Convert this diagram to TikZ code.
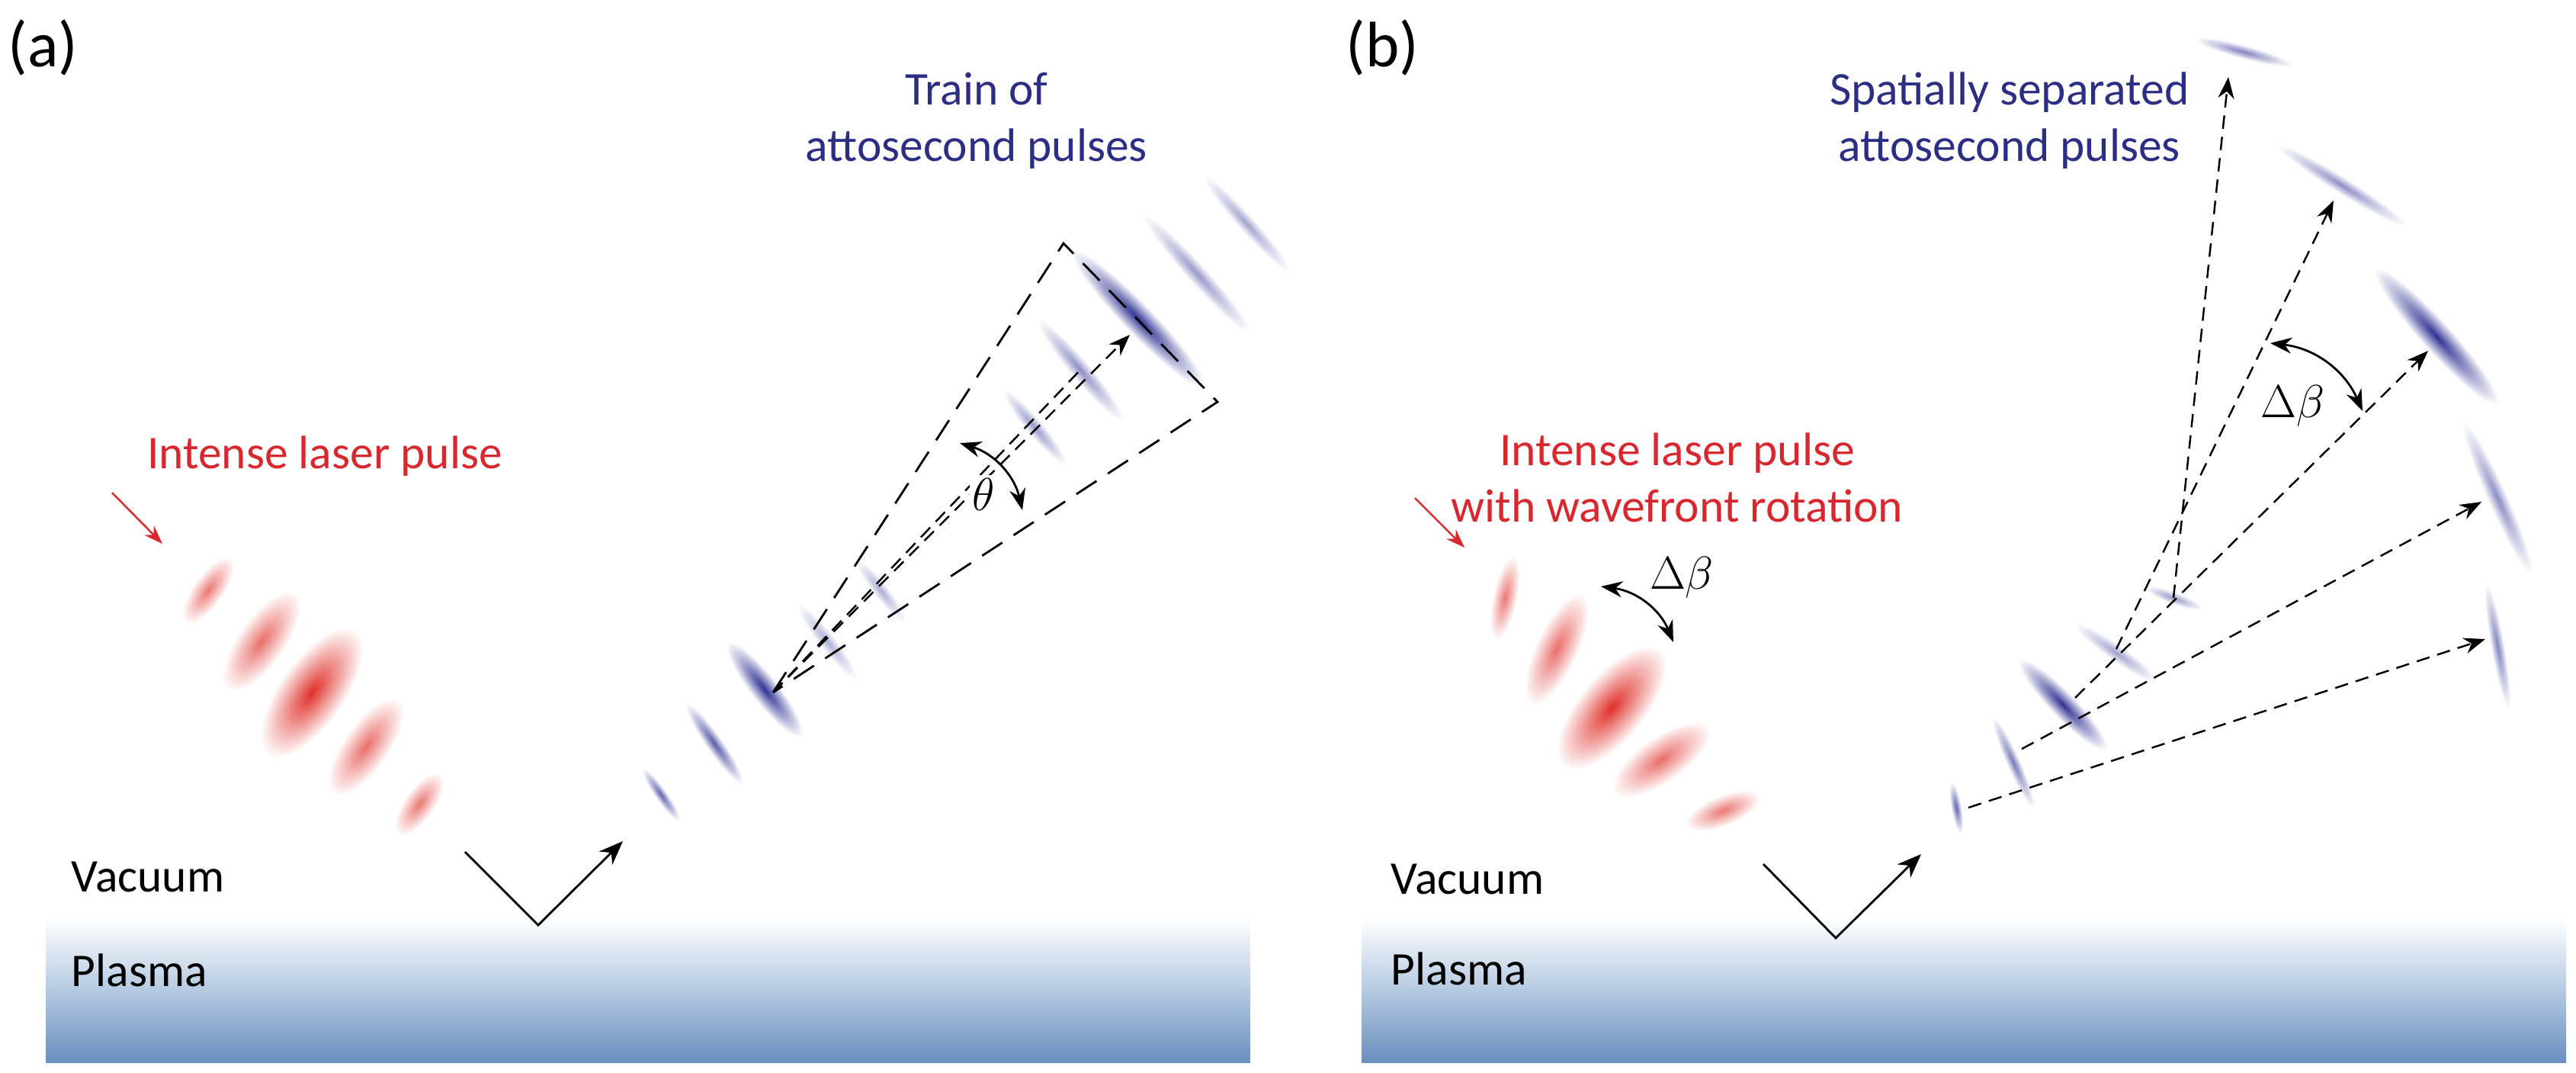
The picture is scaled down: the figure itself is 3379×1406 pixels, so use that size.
\documentclass[tikz,border=0pt]{standalone}
\usepackage{fontspec}
\setmainfont{Carlito}
\usetikzlibrary{arrows.meta}
\definecolor{navy}{HTML}{2B2E83}
\definecolor{pblue}{HTML}{2E3192}
\definecolor{rtext}{HTML}{D7282F}
\definecolor{rpulse}{HTML}{E0302A}
\definecolor{plasma}{HTML}{6A8FBE}
\definecolor{plasmamid}{HTML}{B4C9E1}
\newcommand\mypulse[6]{\shade[transform canvas={shift={(#1,#2)},rotate=#3},inner color=#6,outer color=white] (0,0) ellipse ({#4} and {#5});}
\tikzset{
  lbl/.style={font=\fontsize{17.5}{21}\selectfont, inner sep=0pt},
  tag/.style={font=\fontsize{24}{28}\selectfont, inner sep=0pt},
  refl/.style={line width=0.8pt, -{Stealth[length=9pt,width=7pt]}},
  ray/.style={line width=0.7pt, dash pattern=on 5pt off 3pt, -{Stealth[length=8pt,width=6pt]}},
  edge/.style={line width=0.8pt, dash pattern=on 9pt off 5pt},
  ang/.style={line width=0.8pt, {Stealth[length=8pt,width=6pt]}-{Stealth[length=8pt,width=6pt]}},
}
\begin{document}
\begin{tikzpicture}[x=0.1mm,y=-0.1mm]
\useasboundingbox (0,0) rectangle (3379,1406);
% plasma slabs
\shade[top color=white, bottom color=plasma, middle color=plasmamid] (60,1205) rectangle (1640,1393);
\shade[top color=white, bottom color=plasma, middle color=plasmamid] (1786,1205) rectangle (3366,1393);

% ---------- panel (a)
\node[tag,anchor=west] (ta) at (10,62) {(a)};
\node[lbl,anchor=west] (vaca) at (93,1150) {Vacuum};
\node[lbl,anchor=west] (plaa) at (93,1272) {Plasma};
\node[lbl,text=rtext] (lasa) at (426,598) {Intense laser pulse};
\node[lbl,text=navy,align=center] (traina) at (1281,158) {Train of\\attosecond pulses};
\coordinate (ra1) at (147,646); \coordinate (ra2) at (213,713);
\draw[rtext,line width=0.7pt,-{Stealth[length=7pt,width=5pt]}] (ra1) -- (ra2);
% red pulses
\mypulse{273}{774}{55}{52}{20}{rpulse!65}
\mypulse{343}{841}{55}{78}{31}{rpulse!70}
\mypulse{409}{908}{55}{100}{43}{rpulse}
\mypulse{480}{979}{55}{76}{30}{rpulse!70}
\mypulse{550}{1054}{55}{48}{20}{rpulse!65}
% blue pulses
\mypulse{867}{1042}{-55}{42}{8}{pblue!75}
\mypulse{937}{975}{-55}{64}{11}{pblue!80}
\mypulse{1003}{904}{-52}{78}{18}{pblue}
\mypulse{1085}{841}{-52}{62}{11}{pblue!40}
\mypulse{1155}{774}{-52}{52}{10}{pblue!40}
\mypulse{1357}{560}{-50}{64}{11}{pblue!50}
\mypulse{1417}{485}{-50}{86}{13}{pblue!55}
\mypulse{1493}{418}{-46}{125}{20}{pblue}
\mypulse{1570}{359}{-48}{104}{13}{pblue!50}
\mypulse{1635}{293}{-48}{84}{11}{pblue!45}
% reflection
\coordinate (ia) at (610,1117); \coordinate (va) at (706,1213); \coordinate (oa) at (817,1103);
\draw[refl] (ia) -- (va) -- (oa);
% cone
\coordinate (apa) at (1014,908);
\coordinate (p1) at (1395,319); \coordinate (p2) at (1597,527);
\draw[edge] (apa) -- (p1) -- (p2) -- cycle;
\coordinate (ta1) at (1482,439); \coordinate (ta2) at (1420,482);
\draw[ray] (apa) -- (ta1);
\draw[line width=0.7pt, dash pattern=on 5pt off 3pt] (apa) -- (ta2);
\coordinate (th1) at (1259,581); \coordinate (th2) at (1341,669);
\draw[ang] (th1) to[bend left=30] (th2);
\node[lbl,fill=white,inner sep=1pt] (theta) at (1290,648) {$\theta$};

% ---------- panel (b)
\node[tag,anchor=west] (tb) at (1765,62) {(b)};
\node[lbl,anchor=west] (vacb) at (1824,1153) {Vacuum};
\node[lbl,anchor=west] (plab) at (1824,1270) {Plasma};
\node[lbl,text=rtext,align=center] (lasb) at (2200,626) {Intense laser pulse\\with wavefront rotation};
\node[lbl,text=navy,align=center] (spb) at (2636,158) {Spatially separated\\attosecond pulses};
\coordinate (rb1) at (1856,653); \coordinate (rb2) at (1921,718);
\draw[rtext,line width=0.7pt,-{Stealth[length=7pt,width=5pt]}] (rb1) -- (rb2);
% red pulses (rotating wavefront)
\mypulse{1974}{784}{78}{56}{16}{rpulse!65}
\mypulse{2042}{851}{65}{80}{28}{rpulse!70}
\mypulse{2114}{928}{50}{100}{43}{rpulse}
\mypulse{2179}{996}{35}{76}{30}{rpulse!70}
\mypulse{2260}{1063}{22}{52}{20}{rpulse!65}
% blue near-field pulses
\mypulse{2566}{1059}{-80}{34}{7}{pblue!75}
\mypulse{2641}{1000}{-66}{66}{9}{pblue!65}
\mypulse{2706}{924}{-46}{82}{17}{pblue}
\mypulse{2776}{856}{-35}{66}{11}{pblue!45}
\mypulse{2851}{784}{-20}{40}{8}{pblue!50}
% far-field pulses
\mypulse{2943}{68}{-15}{66}{9}{pblue!60}
\mypulse{3072}{243}{-32}{100}{11}{pblue!55}
\mypulse{3196}{441}{-48}{120}{20}{pblue}
\mypulse{3276}{653}{-66}{110}{13}{pblue!55}
\mypulse{3276}{847}{-80}{84}{9}{pblue!60}
% reflection
\coordinate (ib) at (2313,1133); \coordinate (vb) at (2408,1230); \coordinate (ob) at (2520,1120);
\draw[refl] (ib) -- (vb) -- (ob);
% rays
\coordinate (s1) at (2851,784); \coordinate (e1) at (2923,101);
\coordinate (s2) at (2776,851); \coordinate (e2) at (3061,263);
\coordinate (s3) at (2722,915); \coordinate (e3) at (3185,460);
\coordinate (s4) at (2652,982); \coordinate (e4) at (3255,658);
\coordinate (s5) at (2582,1059); \coordinate (e5) at (3260,838);
\draw[ray] (s1) -- (e1);
\draw[ray] (s2) -- (e2);
\draw[ray] (s3) -- (e3);
\draw[ray] (s4) -- (e4);
\draw[ray] (s5) -- (e5);
\coordinate (db1) at (2978,450); \coordinate (db2) at (3099,539);
\draw[ang] (db1) to[bend left=30] (db2);
\node[lbl] (dbeta) at (3007,532) {$\Delta\beta$};
\coordinate (dr1) at (2100,769); \coordinate (dr2) at (2195,842);
\draw[ang] (dr1) to[bend left=30] (dr2);
\node[lbl] (dbetar) at (2206,757) {$\Delta\beta$};
\end{tikzpicture}
\end{document}
